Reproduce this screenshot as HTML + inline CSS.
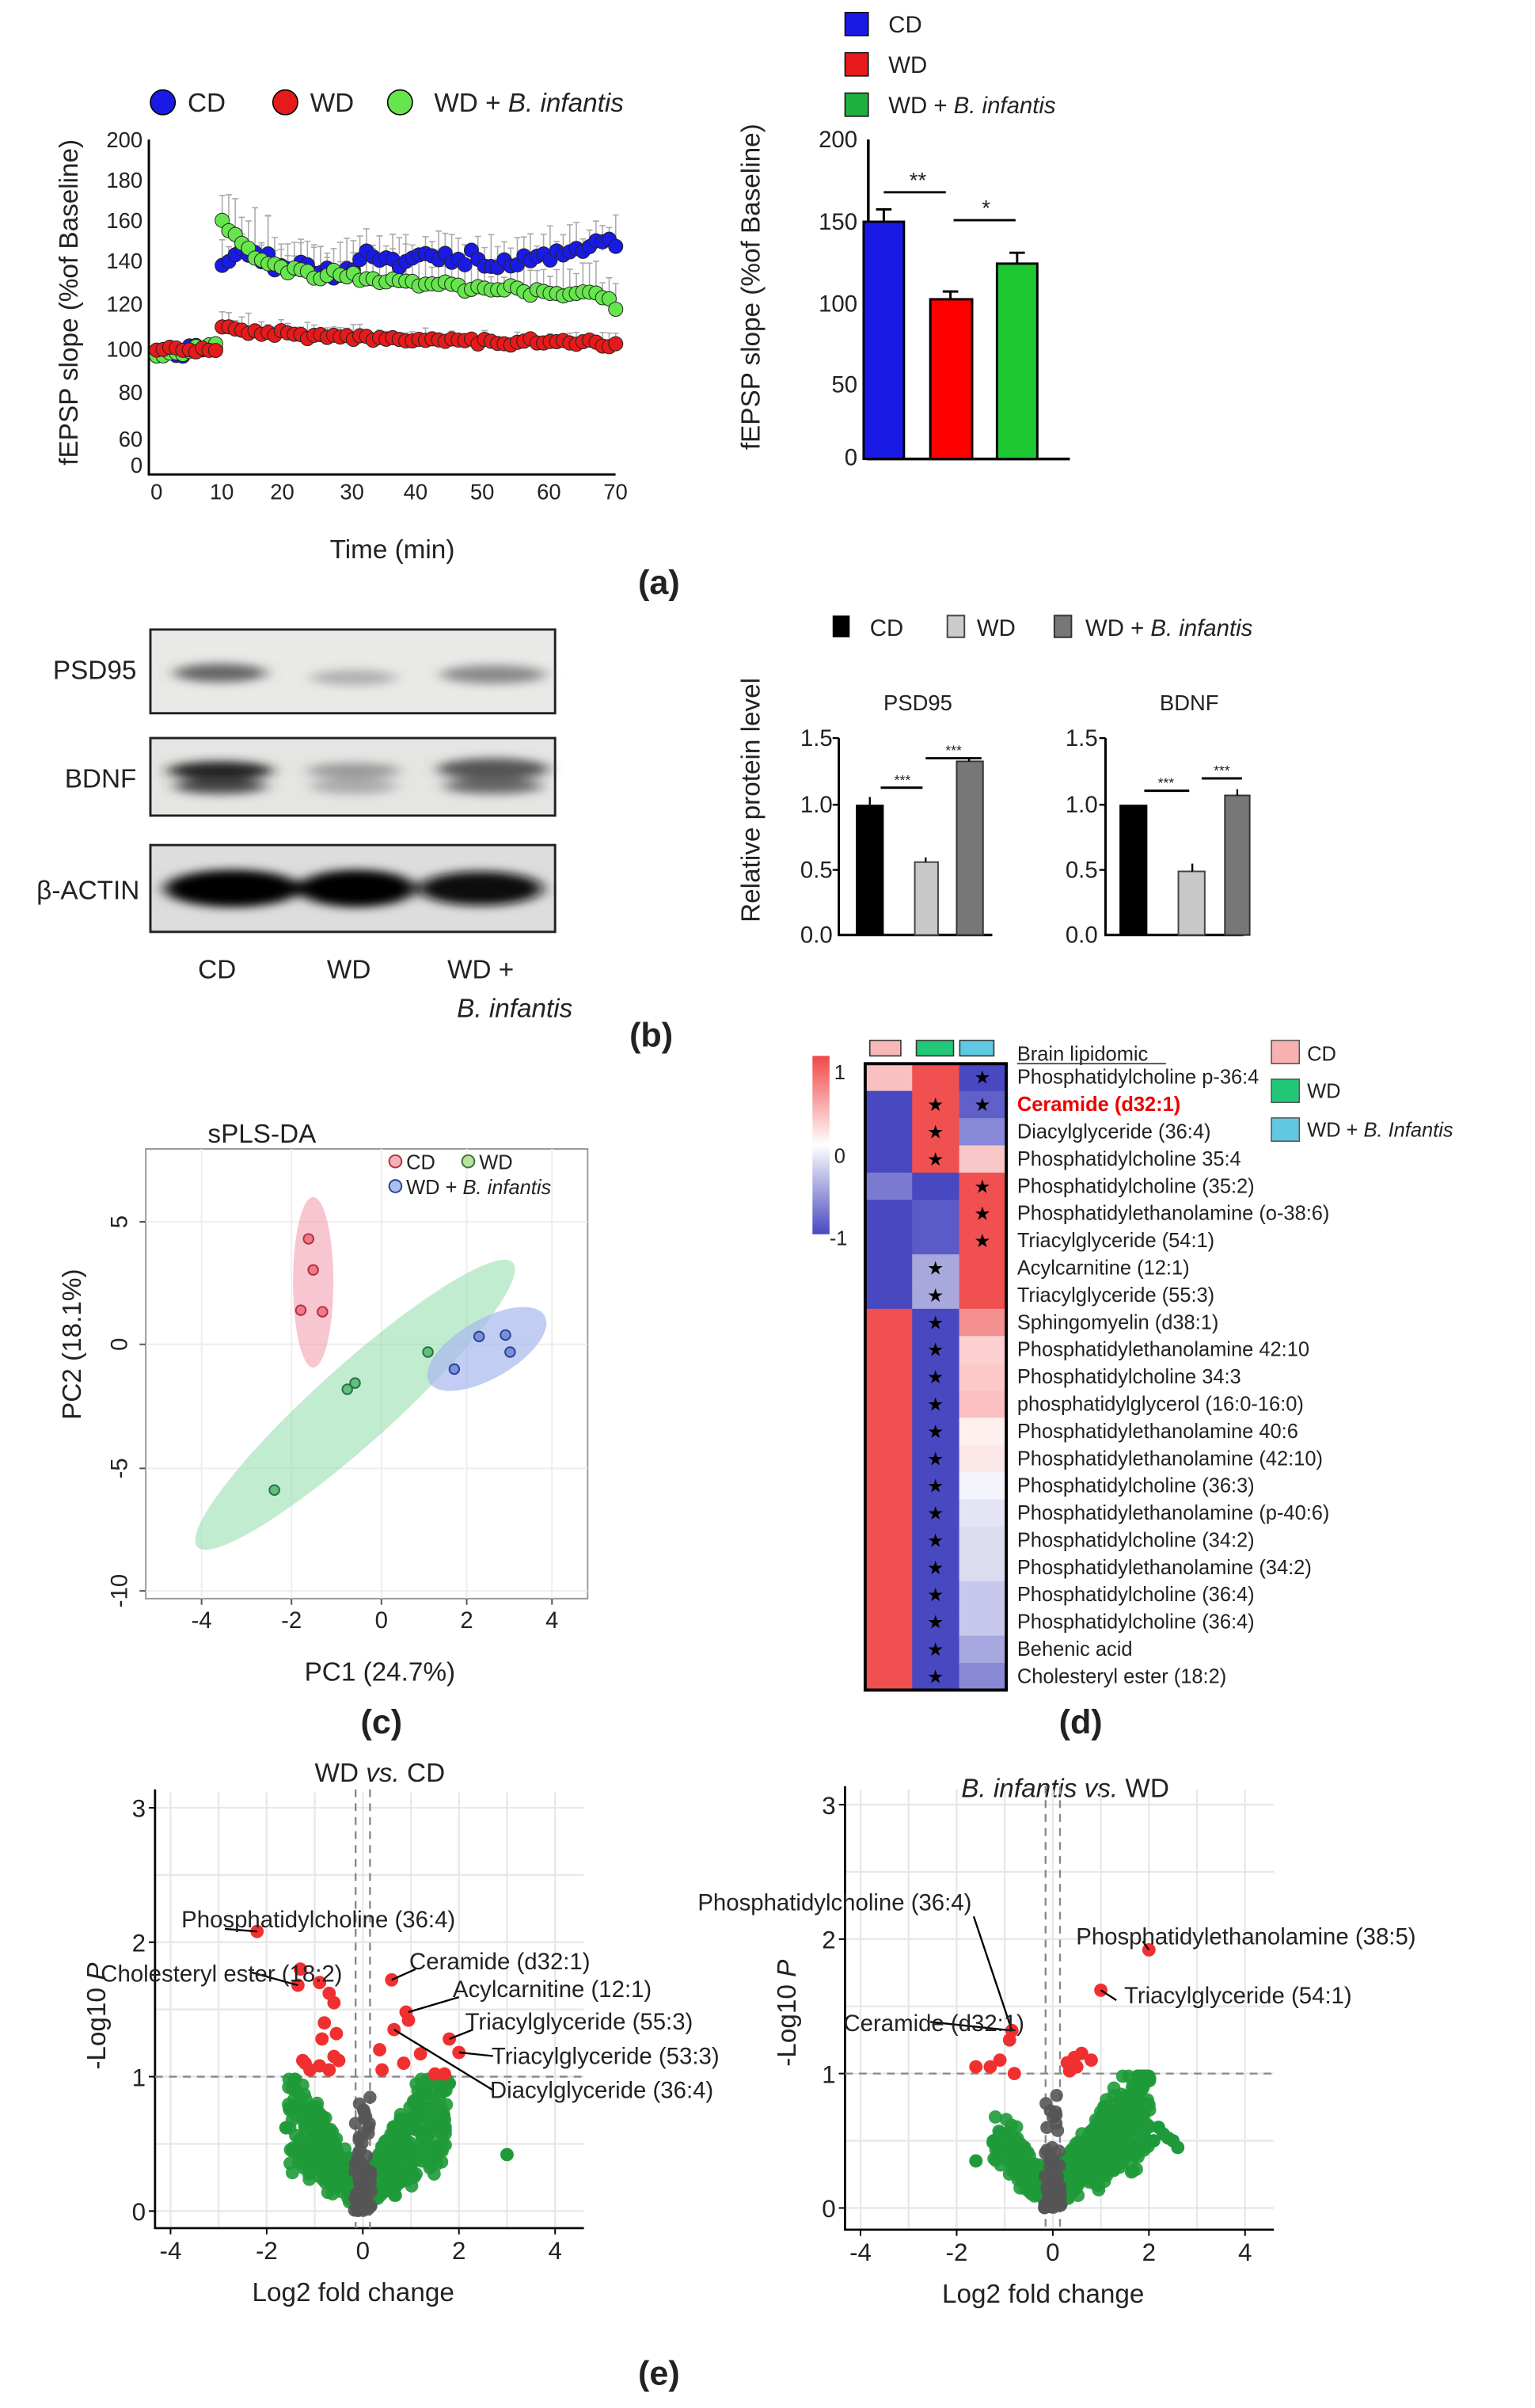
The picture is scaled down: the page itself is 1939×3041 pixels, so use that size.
<!DOCTYPE html>
<html><head><meta charset="utf-8">
<style>
html,body{margin:0;padding:0;background:#fff;}
svg{display:block;}
text{font-family:"Liberation Sans",Arial,sans-serif;}
</style></head>
<body>
<svg id="s" width="1939" height="3041" viewBox="0 0 990 1553" preserveAspectRatio="none" xmlns="http://www.w3.org/2000/svg" fill="#222">
<rect width="990" height="1553" fill="#fff"/>

<!-- ===== (a) left ===== -->
<g font-size="15">
<circle cx="105" cy="66" r="8" fill="#1a1ae6" stroke="#000" stroke-width="0.8"/><text x="121" y="72" font-size="17">CD</text>
<circle cx="184" cy="66" r="8" fill="#e61a1a" stroke="#000" stroke-width="0.8"/><text x="200" y="72" font-size="17">WD</text>
<circle cx="258" cy="66" r="8" fill="#66e64d" stroke="#000" stroke-width="0.8"/><text x="280" y="72" font-size="17">WD + <tspan font-style="italic">B. infantis</tspan></text>
</g>
<g stroke="#000" stroke-width="1.5" fill="none">
<path d="M96 90 V306 H397"/>
</g>
<g font-size="14" text-anchor="end">
<text x="92" y="95">200</text><text x="92" y="121">180</text><text x="92" y="147">160</text><text x="92" y="173">140</text><text x="92" y="201">120</text><text x="92" y="230">100</text><text x="92" y="258">80</text><text x="92" y="288">60</text><text x="92" y="305">0</text>
</g>
<g font-size="14" text-anchor="middle">
<text x="101" y="322">0</text><text x="143" y="322">10</text><text x="182" y="322">20</text><text x="227" y="322">30</text><text x="268" y="322">40</text><text x="311" y="322">50</text><text x="354" y="322">60</text><text x="397" y="322">70</text>
</g>
<text x="253" y="360" font-size="17" text-anchor="middle">Time (min)</text>
<text transform="translate(50,195) rotate(-90)" font-size="17" text-anchor="middle">fEPSP slope (%of Baseline)</text>
<g id="ts"></g>
<text x="425" y="383" font-size="22" font-weight="bold" text-anchor="middle">(a)</text>

<!-- ===== (a) right ===== -->
<rect x="545" y="8" width="15" height="15" fill="#1a1ae6" stroke="#000" stroke-width="0.7"/><text x="573" y="21" font-size="15">CD</text>
<rect x="545" y="34" width="15" height="15" fill="#e61a1a" stroke="#000" stroke-width="0.7"/><text x="573" y="47" font-size="15">WD</text>
<rect x="545" y="60" width="15" height="15" fill="#20b040" stroke="#000" stroke-width="0.7"/><text x="573" y="73" font-size="15">WD + <tspan font-style="italic">B. infantis</tspan></text>
<path d="M560 90 V296 H690" stroke="#000" stroke-width="1.8" fill="none"/>
<g font-size="15" text-anchor="end"><text x="553" y="95">200</text><text x="553" y="148">150</text><text x="553" y="201">100</text><text x="553" y="253">50</text><text x="553" y="300">0</text></g>
<text transform="translate(490,185) rotate(-90)" font-size="17" text-anchor="middle">fEPSP slope (%of Baseline)</text>
<rect x="557" y="143" width="26" height="153" fill="#1a1ae6" stroke="#000" stroke-width="1.5"/>
<path d="M570 143 V135 M565 135 H575" stroke="#000" stroke-width="1.5"/>
<rect x="600" y="193" width="27" height="103" fill="#f00" stroke="#000" stroke-width="1.5"/>
<path d="M613 193 V188 M608 188 H618" stroke="#000" stroke-width="1.5"/>
<rect x="643" y="170" width="26" height="126" fill="#1ec832" stroke="#000" stroke-width="1.5"/>
<path d="M656 170 V163 M651 163 H661" stroke="#000" stroke-width="1.5"/>
<path d="M570 124 H610 M615 142 H655" stroke="#000" stroke-width="1.5"/>
<text x="592" y="121" font-size="14" text-anchor="middle">**</text><text x="636" y="139" font-size="14" text-anchor="middle">*</text>

<!-- ===== (b) blots ===== -->
<defs>
<filter id="bl" x="-20%" y="-50%" width="140%" height="200%"><feGaussianBlur stdDeviation="5 3"/></filter>
</defs>
<rect x="97" y="406" width="261" height="54" fill="#e9e9e7" stroke="#222" stroke-width="1.5"/>
<g filter="url(#bl)"><ellipse cx="142" cy="434" rx="30" ry="6" fill="#666"/><ellipse cx="228" cy="437" rx="28" ry="5" fill="#b0b0b0"/><ellipse cx="318" cy="435" rx="34" ry="6" fill="#8a8a8a"/></g>
<rect x="97" y="476" width="261" height="50" fill="#e5e5e3" stroke="#222" stroke-width="1.5"/>
<g filter="url(#bl)"><ellipse cx="142" cy="497" rx="34" ry="6" fill="#222"/><ellipse cx="142" cy="507" rx="30" ry="5" fill="#444"/><ellipse cx="228" cy="497" rx="30" ry="5" fill="#999"/><ellipse cx="228" cy="507" rx="28" ry="5" fill="#aaa"/><ellipse cx="318" cy="496" rx="36" ry="7" fill="#555"/><ellipse cx="318" cy="507" rx="32" ry="5" fill="#666"/></g>
<rect x="97" y="545" width="261" height="56" fill="#ddd" stroke="#222" stroke-width="1.5"/>
<g filter="url(#bl)"><ellipse cx="150" cy="573" rx="44" ry="12" fill="#000"/><ellipse cx="230" cy="573" rx="38" ry="12" fill="#000"/><ellipse cx="310" cy="573" rx="40" ry="11" fill="#111"/></g>
<g font-size="17" text-anchor="end"><text x="88" y="438">PSD95</text><text x="88" y="508">BDNF</text><text x="90" y="580">β-ACTIN</text></g>
<g font-size="17" text-anchor="middle"><text x="140" y="631">CD</text><text x="225" y="631">WD</text><text x="310" y="631">WD +</text><text x="332" y="656" font-style="italic">B. infantis</text></g>
<text x="420" y="675" font-size="22" font-weight="bold" text-anchor="middle">(b)</text>

<!-- ===== (b) bars ===== -->
<rect x="537" y="397" width="11" height="14" fill="#000"/><text x="561" y="410" font-size="15">CD</text>
<rect x="611" y="397" width="11" height="14" fill="#ccc" stroke="#444" stroke-width="1"/><text x="630" y="410" font-size="15">WD</text>
<rect x="680" y="397" width="11" height="14" fill="#777" stroke="#333" stroke-width="1"/><text x="700" y="410" font-size="15">WD + <tspan font-style="italic">B. infantis</tspan></text>
<text transform="translate(490,516) rotate(-90)" font-size="17" text-anchor="middle">Relative protein level</text>
<text x="592" y="458" font-size="14" text-anchor="middle">PSD95</text>
<text x="767" y="458" font-size="14" text-anchor="middle">BDNF</text>
<g font-size="15" text-anchor="end">
<text x="537" y="481">1.5</text><text x="537" y="524">1.0</text><text x="537" y="566">0.5</text><text x="537" y="608">0.0</text>
<text x="708" y="481">1.5</text><text x="708" y="524">1.0</text><text x="708" y="566">0.5</text><text x="708" y="608">0.0</text>
</g>
<path d="M541 476 V603 H640 M713 476 V603 H802" stroke="#000" stroke-width="1.5" fill="none"/>
<path d="M537 476 H541 M537 519 H541 M537 561 H541 M709 476 H713 M709 519 H713 M709 561 H713" stroke="#000" stroke-width="1.2"/>
<rect x="552" y="519" width="18" height="84" fill="#000"/>
<rect x="590" y="556" width="15" height="47" fill="#c8c8c8" stroke="#444"/>
<rect x="617" y="491" width="17" height="112" fill="#777" stroke="#333"/>
<rect x="722" y="519" width="18" height="84" fill="#000"/>
<rect x="760" y="562" width="17" height="41" fill="#c8c8c8" stroke="#444"/>
<rect x="790" y="513" width="16" height="90" fill="#777" stroke="#333"/>
<path d="M561 519 V514 M597 556 V553 M625 491 V489 M769 562 V557 M798 513 V509" stroke="#000" stroke-width="1.2"/>
<path d="M568 508 H595 M597 489 H633 M738 510 H767 M775 502 H801" stroke="#000" stroke-width="1.5"/>
<g font-size="9" text-anchor="middle"><text x="582" y="506">***</text><text x="615" y="487">***</text><text x="752" y="508">***</text><text x="788" y="500">***</text></g>

<!-- ===== (c) sPLS-DA ===== -->
<text x="134" y="737" font-size="17">sPLS-DA</text>
<rect x="94" y="741" width="285" height="290" fill="#fff" stroke="#999" stroke-width="1"/>
<g stroke="#eee" stroke-width="1"><path d="M130 741V1031 M188 741V1031 M246 741V1031 M301 741V1031 M356 741V1031 M94 788H379 M94 867H379 M94 947H379 M94 1026H379"/></g>
<ellipse cx="202" cy="827" rx="13" ry="55" fill="#f4a0b0" opacity="0.6"/>
<ellipse cx="229" cy="906" rx="137" ry="25" transform="rotate(-42 229 906)" fill="#8fdca8" opacity="0.55"/>
<ellipse cx="314" cy="870" rx="43" ry="19" transform="rotate(-30 314 870)" fill="#a8b8ee" opacity="0.7"/>
<g stroke="#b03040" stroke-width="1" fill="#f07888"><circle cx="199" cy="799" r="3.2"/><circle cx="202" cy="819" r="3.2"/><circle cx="194" cy="845" r="3.2"/><circle cx="208" cy="846" r="3.2"/></g>
<g stroke="#2a7040" stroke-width="1" fill="#60c080"><circle cx="276" cy="872" r="3.2"/><circle cx="224" cy="896" r="3.2"/><circle cx="229" cy="892" r="3.2"/><circle cx="177" cy="961" r="3.2"/></g>
<g stroke="#304090" stroke-width="1" fill="#7890e0"><circle cx="293" cy="883" r="3.2"/><circle cx="309" cy="862" r="3.2"/><circle cx="326" cy="861" r="3.2"/><circle cx="329" cy="872" r="3.2"/></g>
<g font-size="13"><circle cx="255" cy="749" r="4" fill="#f8b0b8" stroke="#b03040"/><text x="262" y="754">CD</text><circle cx="302" cy="749" r="4" fill="#b8e0a0" stroke="#407030"/><text x="309" y="754">WD</text>
<circle cx="255" cy="765" r="4" fill="#a8c0f0" stroke="#304090"/><text x="262" y="770">WD + <tspan font-style="italic">B. infantis</tspan></text></g>
<g font-size="15" text-anchor="middle">
<text transform="translate(82,788) rotate(-90)">5</text><text transform="translate(82,867) rotate(-90)">0</text><text transform="translate(82,947) rotate(-90)">-5</text><text transform="translate(82,1026) rotate(-90)">-10</text>
<text x="130" y="1050">-4</text><text x="188" y="1050">-2</text><text x="246" y="1050">0</text><text x="301" y="1050">2</text><text x="356" y="1050">4</text>
</g>
<path d="M130 1031v4 M188 1031v4 M246 1031v4 M301 1031v4 M356 1031v4 M90 788h4 M90 867h4 M90 947h4 M90 1026h4" stroke="#555"/>
<text transform="translate(52,867) rotate(-90)" font-size="17" text-anchor="middle">PC2 (18.1%)</text>
<text x="245" y="1084" font-size="17" text-anchor="middle">PC1 (24.7%)</text>
<text x="246" y="1118" font-size="22" font-weight="bold" text-anchor="middle">(c)</text>

<!-- ===== (d) heatmap ===== -->
<defs><linearGradient id="cs" x1="0" y1="0" x2="0" y2="1"><stop offset="0" stop-color="#f04848"/><stop offset="0.5" stop-color="#ffffff"/><stop offset="1" stop-color="#4848c0"/></linearGradient></defs>
<rect x="524" y="681" width="11" height="115" fill="url(#cs)"/>
<g font-size="13"><text x="538" y="696">1</text><text x="538" y="750">0</text><text x="535" y="803">-1</text></g>
<rect x="561" y="671" width="20" height="10" fill="#f8b8b8" stroke="#333" stroke-width="0.8"/>
<rect x="591" y="671" width="24" height="10" fill="#20c878" stroke="#333" stroke-width="0.8"/>
<rect x="619" y="671" width="22" height="10" fill="#60c8e0" stroke="#333" stroke-width="0.8"/>
<g id="hm"></g>
<rect x="558" y="686" width="91" height="404" fill="none" stroke="#000" stroke-width="2"/>
<text x="656" y="684" font-size="13">Brain lipidomic</text><path d="M656 686 H752" stroke="#333" stroke-width="0.8"/>
<g id="hl" font-size="13"></g>
<rect x="820" y="671" width="18" height="15" fill="#f8b0b0" stroke="#555" stroke-width="0.8"/><text x="843" y="684" font-size="13">CD</text>
<rect x="820" y="696" width="18" height="15" fill="#20c878" stroke="#555" stroke-width="0.8"/><text x="843" y="708" font-size="13">WD</text>
<rect x="820" y="721" width="18" height="15" fill="#60c8e0" stroke="#555" stroke-width="0.8"/><text x="843" y="733" font-size="13">WD + <tspan font-style="italic">B. Infantis</tspan></text>
<text x="697" y="1118" font-size="22" font-weight="bold" text-anchor="middle">(d)</text>

<!-- ===== (e) volcano ===== -->
<text x="245" y="1149" font-size="17" text-anchor="middle">WD <tspan font-style="italic">vs.</tspan> CD</text>
<text x="687" y="1159" font-size="17" text-anchor="middle"><tspan font-style="italic">B. infantis vs.</tspan> WD</text>
<g id="v1"></g><g id="v2"></g>
<text x="425" y="1538" font-size="22" font-weight="bold" text-anchor="middle">(e)</text>
</svg>
<script>
(function(){
var NS="http://www.w3.org/2000/svg";
function el(p,t,a,txt){var e=document.createElementNS(NS,t);for(var k in a)e.setAttribute(k,a[k]);if(txt!=null)e.textContent=txt;p.appendChild(e);return e;}
var seed=12345;function rnd(){seed=(seed*1103515245+12345)%2147483648;return seed/2147483648;}
function gauss(){return (rnd()+rnd()+rnd()-1.5)*1.4;}
var ts=document.getElementById('ts');
function X(t){return 101+t*4.23;}function Y(v){return 225-(v-100)*1.35;}
function blue(t){if(t<10)return 99+gauss()*2;return 140+(t>11&&t<18?4:0)-(t>23&&t<30?4:0)+(t>30&&t<50?3:0)+(t>55?(t-55)*0.8:0)+gauss()*2.5;}
function green(t){if(t<10)return 97+t*0.6+gauss()*1.5;return 124+24*Math.exp(-(t-10)/4)+(70-t)*0.25+gauss()*1.5-(t>69?5:0);}
function red(t){if(t<10)return 100+gauss()*1.5;return 102+8*Math.exp(-(t-10)/25)+gauss()*1.2;}
var series=[[blue,'#1a1ae6',10],[green,'#66e64d',12],[red,'#e61a1a',4]];
series.forEach(function(s){for(var t=0;t<=70;t+=1){var v=s[0](t);var y=Y(v),x=X(t);var e=s[2]*(0.5+rnd()*(t>9&&t<20?1.6:0.9));if(t>=10)el(ts,'path',{d:'M'+x+' '+y+'V'+(y-e*1.35)+'M'+(x-2)+' '+(y-e*1.35)+'H'+(x+2),stroke:'#aaa','stroke-width':0.8});}});
series.forEach(function(s){seed=777+s[2];for(var t=0;t<=70;t+=1){var v=s[0](t);el(ts,'circle',{cx:X(t),cy:Y(v),r:4.6,fill:s[1],stroke:'#222','stroke-width':0.5});}});
var R='#f05050',B='#4848c0';
var cols=[
[ '#f8c0c0',B,B,B,'#7a7ad0',B,B,B,B,R,R,R,R,R,R,R,R,R,R,R,R,R,R],
[ R,R,R,R,B,'#5a5ac8','#5a5ac8','#a8a8dc','#a8a8dc',B,B,B,B,B,B,B,B,B,B,B,B,B,B],
[ B,'#6060c8','#8888d8','#f8c8c8',R,R,R,R,R,'#f49090','#fcd0d0','#fcc8c8','#fcc0c0','#fff0f0','#fce8e8','#f4f4fc','#e4e4f4','#dcdcf0','#dcdcf0','#c8c8ec','#c8c8ec','#a8a8e0','#8888d4']];
var stars=[[],[1,2,3,7,8,9,10,11,12,13,14,15,16,17,18,19,20,21,22],[0,1,4,5,6]];
var hm=document.getElementById('hm');var rh=404/23;var top=686;
for(var c=0;c<3;c++)for(var r=0;r<23;r++){el(hm,'rect',{x:558+c*30.3,y:top+r*rh,width:30.8,height:rh+0.5,fill:cols[c][r]});}
for(var c=0;c<3;c++)stars[c].forEach(function(r){el(hm,'text',{x:573+c*30.3,y:top+r*rh+13,'font-size':12,'text-anchor':'middle',fill:'#000'},'★');});
var labels=['Phosphatidylcholine p-36:4','Ceramide (d32:1)','Diacylglyceride (36:4)','Phosphatidylcholine 35:4','Phosphatidylcholine (35:2)','Phosphatidylethanolamine (o-38:6)','Triacylglyceride (54:1)','Acylcarnitine (12:1)','Triacylglyceride (55:3)','Sphingomyelin (d38:1)','Phosphatidylethanolamine 42:10','Phosphatidylcholine 34:3','phosphatidylglycerol (16:0-16:0)','Phosphatidylethanolamine 40:6','Phosphatidylethanolamine (42:10)','Phosphatidylcholine (36:3)','Phosphatidylethanolamine (p-40:6)','Phosphatidylcholine (34:2)','Phosphatidylethanolamine (34:2)','Phosphatidylcholine (36:4)','Phosphatidylcholine (36:4)','Behenic acid','Cholesteryl ester (18:2)'];
var hl=document.getElementById('hl');
labels.forEach(function(l,i){var a={x:656,y:top+i*rh+13};if(i==1){a.fill='#e00';a.style='fill:#e00';a['font-weight']='bold';}el(hl,'text',a,l);});
function volcano(g,x0,y0top,y0,xl,bt,opts){
 var X=function(v){return x0+31*v;},Y=function(v){return y0-86.7*v;};
 var gr=el(g,'g',{stroke:'#e8e8e8','stroke-width':1.2});
 for(var v=-4;v<=4;v+=1)el(gr,'path',{d:'M'+X(v)+' '+(y0top-10)+'V'+bt});
 for(var v=0;v<=3;v+=0.5)el(gr,'path',{d:'M'+(xl)+' '+Y(v)+'H'+X(4.6)});
 el(g,'path',{d:'M'+xl+' '+(y0top-12)+'V'+bt+'H'+X(4.6),stroke:'#000','stroke-width':1.4,fill:'none'});
 for(var v=-4;v<=4;v+=2){el(g,'text',{x:X(v),y:bt+20,'font-size':16,'text-anchor':'middle'},String(v));el(g,'path',{d:'M'+X(v)+' '+bt+'v4',stroke:'#000'});}
 for(var v=0;v<=3;v++){el(g,'text',{x:xl-6,y:Y(v)+6,'font-size':16,'text-anchor':'end'},String(v));el(g,'path',{d:'M'+(xl-4)+' '+Y(v)+'h4',stroke:'#000'});}
 el(g,'text',{x:X(-0.2),y:bt+47,'font-size':17,'text-anchor':'middle'},'Log2 fold change');
 var t=el(g,'text',{transform:'translate('+(xl-32)+','+Y(1.45)+') rotate(-90)','font-size':17,'text-anchor':'middle'},'-Log10 ');el(t,'tspan',{'font-style':'italic'},'P');
 el(g,'path',{d:'M'+xl+' '+Y(1)+'H'+X(4.6),stroke:'#888','stroke-dasharray':'5,4','stroke-width':1.2});
 el(g,'path',{d:'M'+X(-0.15)+' '+(y0top-12)+'V'+bt+'M'+X(0.15)+' '+(y0top-12)+'V'+bt,stroke:'#888','stroke-dasharray':'5,4','stroke-width':1.2});
 for(var i=0;i<opts.n;i++){var side=rnd()<opts.right?1:-1;var fc=side*(0.15+Math.pow(rnd(),1.6)*(side>0?opts.rx:opts.lx));var p=Math.min(0.98,Math.abs(fc)*opts.slope*(0.3+rnd()*0.9)+rnd()*0.25);
  el(g,'circle',{cx:X(fc),cy:Y(p),r:4.3,fill:'#1f9a3a',opacity:0.9});}
 (opts.extraG||[]).forEach(function(q){el(g,'circle',{cx:X(q[0]),cy:Y(q[1]),r:4.3,fill:'#1f9a3a'});});
 for(var i=0;i<70;i++){var fc=(rnd()-0.5)*0.35;var p=rnd()*0.95*rnd();el(g,'circle',{cx:X(fc),cy:Y(p),r:4.2,fill:'#555',opacity:0.9});}
 opts.red.forEach(function(q){el(g,'circle',{cx:X(q[0]),cy:Y(q[1]),r:4.3,fill:'#f03030'});});
 opts.lab.forEach(function(q){el(g,'path',{d:'M'+X(q[0])+' '+Y(q[1])+'L'+q[2]+' '+q[3],stroke:'#000','stroke-width':1.2});el(g,'text',{x:q[4],y:q[5],'font-size':15,'text-anchor':q[6]||'start'},q[7]);});
}
seed=4242;
volcano(document.getElementById('v1'),234,1166,1426,100,1437,{n:650,right:0.55,rx:1.6,lx:1.4,slope:0.55,
 extraG:[[3,0.42],[1.8,0.95],[1.3,0.6],[-1.6,0.62]],
 red:[[-2.2,2.08],[-1.3,1.8],[-1.35,1.68],[-0.9,1.7],[-0.7,1.62],[-0.6,1.55],[-0.8,1.4],[-0.55,1.32],[-0.85,1.28],[-0.6,1.15],[-0.9,1.08],[-1.1,1.05],[-1.2,1.1],[-0.5,1.12],[-0.7,1.05],[-1.25,1.12],[0.6,1.72],[0.9,1.48],[0.95,1.42],[0.65,1.35],[1.8,1.28],[2,1.18],[1.2,1.17],[0.85,1.1],[1.5,1.02],[1.7,1.02],[0.4,1.05],[0.35,1.2]],
 lab:[[-2.2,2.08,145,1244,117,1243,'start','Phosphatidylcholine (36:4)'],[-1.35,1.68,162,1272,65,1278,'start','Cholesteryl ester (18:2)'],[0.6,1.72,268,1270,264,1270,'start','Ceramide (d32:1)'],[0.95,1.48,296,1288,292,1288,'start','Acylcarnitine (12:1)'],[1.8,1.28,305,1309,300,1309,'start','Triacylglyceride (55:3)'],[2,1.18,318,1326,317,1331,'start','Triacylglyceride (53:3)'],[0.65,1.35,318,1348,316,1353,'start','Diacylglyceride (36:4)']]});
seed=9191;
volcano(document.getElementById('v2'),679,1164,1424,545,1438,{n:700,right:0.8,rx:1.9,lx:1.1,slope:0.45,
 extraG:[[2.5,0.5],[2.6,0.45],[2.3,0.55],[2.2,0.6],[-1.6,0.35],[1.5,0.75],[1.9,0.55],[2.1,0.5],[2.4,0.52],[1.7,0.6]],
 red:[[-0.85,1.32],[-0.9,1.25],[-1.1,1.1],[-1.3,1.05],[-1.6,1.05],[-0.8,1.0],[0.3,1.08],[0.45,1.12],[0.6,1.15],[0.8,1.1],[0.5,1.05],[0.35,1.02],[2,1.92],[1.0,1.62]],
 lab:[[-0.85,1.32,628,1236,450,1232,'start','Phosphatidylcholine (36:4)'],[-0.85,1.32,600,1304,544,1310,'start','Ceramide (d32:1)'],[2,1.92,737,1252,694,1254,'start','Phosphatidylethanolamine (38:5)'],[1.0,1.62,720,1290,725,1292,'start','Triacylglyceride (54:1)']]});
})();
</script>
</body></html>
